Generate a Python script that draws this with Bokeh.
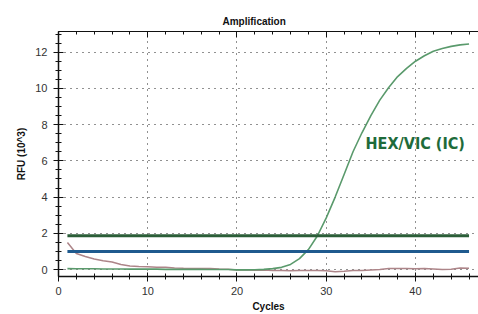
from bokeh.plotting import figure
from bokeh.models import (Range1d, LinearAxis, SingleIntervalTicker, Label)
from bokeh.embed import file_html
from bokeh.resources import INLINE

# ---- data ----
cycles = list(range(1, 47))
hex_rfu = [0.05, 0.04, 0.04, 0.04, 0.03, 0.03, 0.03, 0.02, 0.02, 0.02,
           0.02, 0.01, 0.01, 0.01, 0.01, 0.01, 0.0, 0.0, 0.0, -0.02,
           -0.02, -0.01, 0.01, 0.05, 0.12, 0.28, 0.6, 1.1, 1.85, 2.85,
           4.0, 5.25, 6.5, 7.55, 8.5, 9.35, 10.05, 10.65, 11.1, 11.5,
           11.8, 12.05, 12.2, 12.32, 12.4, 12.45]
other_rfu = [1.49, 0.88, 0.72, 0.58, 0.48, 0.42, 0.28, 0.2, 0.17, 0.15,
             0.13, 0.12, 0.09, 0.07, 0.06, 0.05, 0.06, 0.03, 0.01, -0.02,
             -0.03, -0.04, -0.03, -0.05, -0.06, -0.07, -0.05, -0.05, -0.06, -0.07,
             -0.12, -0.1, -0.06, -0.06, -0.03, 0.0, 0.05, 0.06, 0.05, 0.04,
             0.05, 0.03, 0.0, 0.02, 0.08, 0.07]
threshold_cycles = [1, 46]
hex_threshold = [1.87, 1.87]
other_threshold = [1.0, 1.0]
series_label = "HEX/VIC (IC)"
label_pos = (34.4, 6.94)

FONT = "Liberation Sans"

p = figure(width=478, height=314, output_backend="svg", toolbar_location=None,
           x_range=Range1d(0, 47.06), y_range=Range1d(-0.385, 13.14),
           min_border_left=58, min_border_right=0, min_border_top=31,
           min_border_bottom=37, x_axis_location=None, y_axis_location=None)
p.outline_line_color = None
p.background_fill_color = "white"
p.border_fill_color = "white"

p.title.text = "Amplification"
p.title.text_font = FONT
p.title.text_font_style = "bold"
p.title.text_font_size = "10px"
p.title.text_color = "#111111"
p.title.align = "left"
p.title.offset = 164
p.title.standoff = 10

# axes
xt = SingleIntervalTicker(interval=10, num_minor_ticks=5)
yt = SingleIntervalTicker(interval=2, num_minor_ticks=4)

xaxis = LinearAxis(ticker=xt)
xaxis.major_tick_in = 4
xaxis.major_tick_out = 5
xaxis.minor_tick_in = 3
xaxis.minor_tick_out = 3
xaxis.major_label_standoff = 5
xaxis.major_label_text_font = FONT
xaxis.major_label_text_font_size = "11px"
xaxis.major_label_text_color = "#333333"
xaxis.axis_line_color = "#111111"
xaxis.major_tick_line_color = "#111111"
xaxis.minor_tick_line_color = "#111111"
xaxis.axis_line_width = 1.5
xaxis.axis_label = "Cycles"
xaxis.axis_label_text_font = FONT
xaxis.axis_label_text_font_style = "bold"
xaxis.axis_label_text_font_size = "10px"
xaxis.axis_label_text_color = "#111111"
xaxis.axis_label_standoff = 3
p.add_layout(xaxis, "below")

yaxis = LinearAxis(ticker=yt)
yaxis.major_tick_in = 5
yaxis.major_tick_out = 5
yaxis.minor_tick_in = 3
yaxis.minor_tick_out = 3
yaxis.major_label_standoff = 6
yaxis.major_label_text_font = FONT
yaxis.major_label_text_font_size = "11px"
yaxis.major_label_text_color = "#333333"
yaxis.axis_line_color = "#111111"
yaxis.major_tick_line_color = "#111111"
yaxis.minor_tick_line_color = "#111111"
yaxis.axis_line_width = 1.5
yaxis.axis_label = "RFU (10^3)"
yaxis.axis_label_text_font = FONT
yaxis.axis_label_text_font_style = "bold"
yaxis.axis_label_text_font_size = "10px"
yaxis.axis_label_text_color = "#111111"
yaxis.axis_label_standoff = 5
p.add_layout(yaxis, "left")

taxis = LinearAxis(ticker=SingleIntervalTicker(interval=10, num_minor_ticks=5))
taxis.major_tick_in = 6
taxis.major_tick_out = 0
taxis.minor_tick_in = 3
taxis.minor_tick_out = 0
taxis.major_label_text_font_size = "1px"
taxis.major_label_text_color = None
taxis.major_label_standoff = 0
taxis.axis_line_color = "#111111"
taxis.major_tick_line_color = "#111111"
taxis.minor_tick_line_color = "#111111"
taxis.axis_line_width = 1.2
p.add_layout(taxis, "above")

# grids
p.xgrid.ticker = xt
p.ygrid.ticker = yt
for g in (p.xgrid, p.ygrid):
    g.grid_line_color = "#222222"
    g.grid_line_dash = "1 5"
    g.grid_line_width = 1

# data lines
p.line(cycles, other_rfu, line_color="#ad8589", line_width=1.5)
p.line(cycles, hex_rfu, line_color="#5a9a6c", line_width=1.6)
p.line(threshold_cycles, hex_threshold, line_color="#2b5e38", line_width=3)
p.line(threshold_cycles, other_threshold, line_color="#1f5a8e", line_width=3)

p.add_layout(Label(x=label_pos[0], y=label_pos[1], text=series_label,
                   text_font="DejaVu Sans Condensed", text_font_style="bold",
                   text_font_size="16px", text_color="#1e6b3a",
                   text_baseline="middle", text_align="left"))

open("out.html", "w").write(file_html(p, INLINE))
